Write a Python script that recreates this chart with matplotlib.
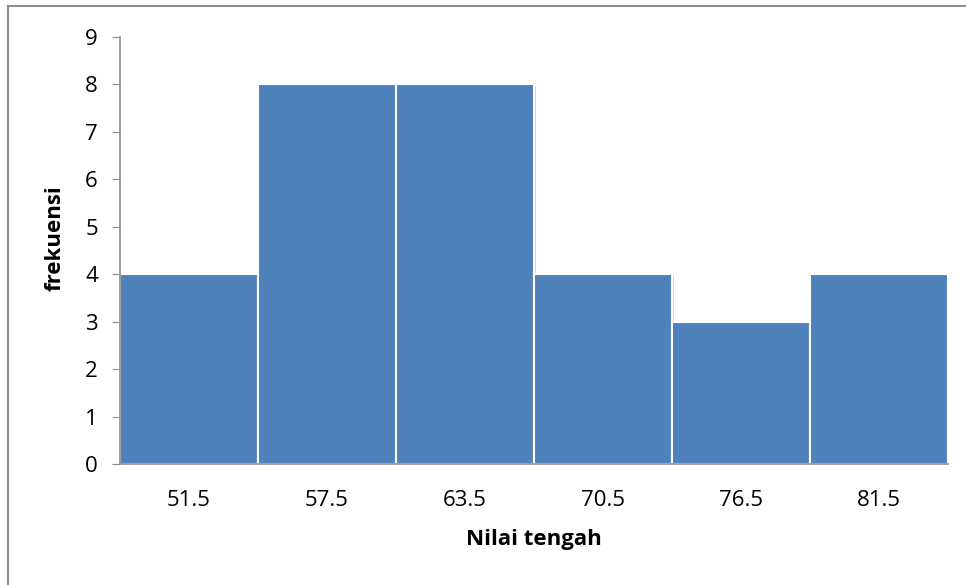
import matplotlib.pyplot as plt
import matplotlib.patheffects as pe
from matplotlib.patches import Rectangle

# data
nilai_tengah = ['51.5', '57.5', '63.5', '70.5', '76.5', '81.5']
frekuensi = [4, 8, 8, 4, 3, 4]

plt.rcParams['font.family'] = ['Open Sans', 'DejaVu Sans']

fig = plt.figure(figsize=(9.66, 5.85), dpi=100)
W, H = 966, 585

# outer chart frame (Excel style)
fig.patches.append(Rectangle((8 / W, -0.05), 1.05, 1 - 6 / H + 0.05,
                             transform=fig.transFigure, fill=False,
                             edgecolor='#8c8c8c', linewidth=1.5))

ax = fig.add_axes([120 / W, 1 - 464 / H, (948 - 120) / W, (464 - 37) / H])

x = range(len(nilai_tengah))
bars = ax.bar(x, frekuensi, width=1.0, color='#4F81BD', edgecolor='white',
              linewidth=1.5)
for b in bars:
    b.set_path_effects([pe.SimplePatchShadow(offset=(1.5, -1), shadow_rgbFace='#bbbbbb', alpha=0.6),
                        pe.Normal()])

ax.set_xlim(-0.5, len(nilai_tengah) - 0.5)
ax.set_ylim(0, 9)
ax.set_yticks(range(0, 10))
ax.set_xticks(list(x))
ax.set_xticklabels(nilai_tengah)

for s in ['top', 'right']:
    ax.spines[s].set_visible(False)
for s in ['left', 'bottom']:
    ax.spines[s].set_color('#8c8c8c')
    ax.spines[s].set_linewidth(1.2)

ax.tick_params(axis='y', length=6, color='#8c8c8c', labelsize=16, pad=10)
ax.tick_params(axis='x', length=0, labelsize=16, pad=19)

ax.set_xlabel('Nilai tengah', fontsize=16, fontweight='bold', labelpad=13)
ax.set_ylabel('frekuensi', fontsize=16, fontweight='bold')
ax.yaxis.set_label_coords(-0.066, 0.53)

fig.savefig('out.png', dpi=100)
